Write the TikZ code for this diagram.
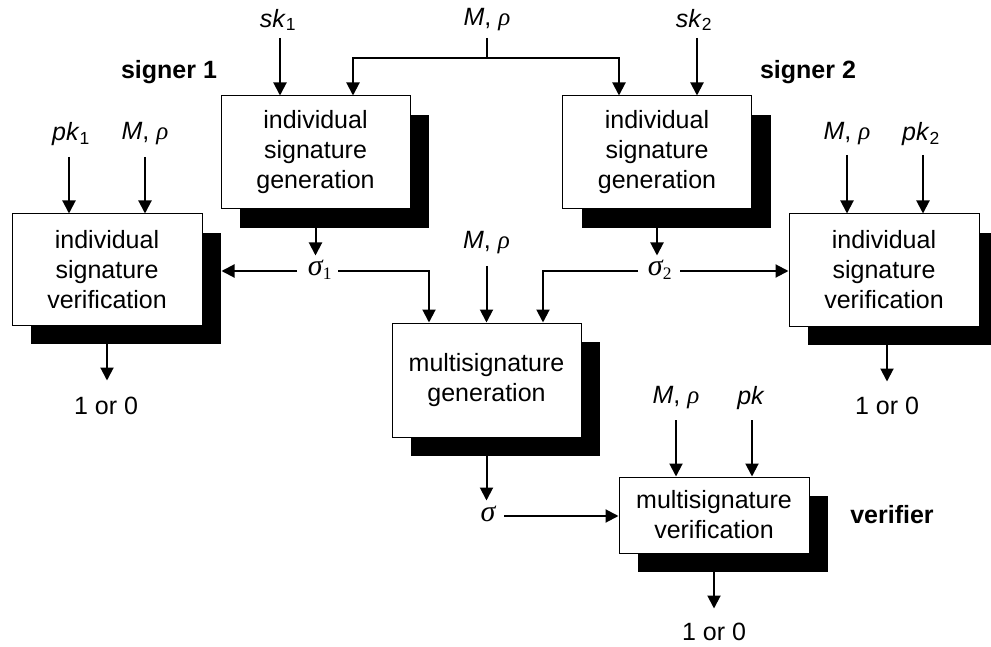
\documentclass[tikz,border=0pt]{standalone}
\usepackage{fontspec}
\setmainfont{Liberation Sans}
\newfontfamily\serf{Liberation Serif}
\usetikzlibrary{arrows.meta,shadows}
\newcommand\fsz{\fontsize{25}{30}\selectfont}
\newcommand\fbz{\fontsize{25}{28}\selectfont\bfseries}
\newcommand\rh{{\serf\itshape ρ}}
\newcommand\sg[1]{{\serf\fontsize{30}{30}\selectfont\itshape σ}\textsubscript{\serf #1}}
\begin{document}
\begin{tikzpicture}[x=1pt,y=-1pt,
  box/.style={draw, line width=1pt, fill=white, align=center, inner sep=0pt,
    minimum width=189pt, minimum height=113pt, font=\fsz,
    general shadow={shadow xshift=19pt, shadow yshift=-19pt, fill=black}},
  lbl/.style={inner sep=0pt, font=\fsz},
  bold/.style={inner sep=0pt, font=\fbz},
  arr/.style={line width=2pt, -{Triangle[length=13pt,width=13pt]}},
  ln/.style={line width=2pt}]
\useasboundingbox (0,0) rectangle (991,647);

% boxes
\node[box] (isg1) at (315.5,152.5) {individual\\signature\\generation};
\node[box] (isg2) at (657,152.5) {individual\\signature\\generation};
\node[box, minimum width=190pt, minimum height=111pt] (isv1) at (107,269.5) {individual\\signature\\verification};
\node[box, minimum width=190pt, minimum height=112pt] (isv2) at (884,270) {individual\\signature\\verification};
\node[box, minimum height=114pt] (mg) at (486.5,380) {multisignature\\generation};
\node[box, minimum width=190pt, minimum height=76pt] (mv) at (714,515) {multisignature\\verification};

% labels
\node[lbl] (sk1) at (278,20) {\textit{sk}\textsubscript{1}};
\node[lbl] (mp0) at (487,20) {\textit{M}, \rh};
\node[lbl] (sk2) at (694,20) {\textit{sk}\textsubscript{2}};
\node[bold] (sg1) at (169,72) {signer 1};
\node[bold] (sg2) at (808,72) {signer 2};
\node[lbl] (pk1) at (71,134) {\textit{pk}\textsubscript{1}};
\node[lbl] (mpa) at (145,134) {\textit{M}, \rh};
\node[lbl] (mpb) at (847,134) {\textit{M}, \rh};
\node[lbl] (pk2) at (921,134) {\textit{pk}\textsubscript{2}};
\node[lbl] (mpc) at (486.5,243) {\textit{M}, \rh};
\node[lbl, anchor=base] (s1) at (320,276) {\sg{1}};
\node[lbl, anchor=base] (s2) at (660,276) {\sg{2}};
\node[lbl, anchor=base] (sg) at (488,521) {{\serf\fontsize{30}{30}\selectfont\itshape σ}};
\node[lbl] (mpd) at (676,398) {\textit{M}, \rh};
\node[lbl] (pk) at (751,398) {\textit{pk}};
\node[bold] (ver) at (892,515) {verifier};
\node[lbl] (o1) at (106,406) {1 or 0};
\node[lbl] (o2) at (887,406) {1 or 0};
\node[lbl] (o3) at (714,632) {1 or 0};

% free ends
\coordinate (a1) at (280,38);
\coordinate (a0) at (487,38);
\coordinate (aj) at (487,58);
\coordinate (a2) at (697,38);
\coordinate (b1) at (69,157);
\coordinate (b2) at (145,157);
\coordinate (b3) at (847,155);
\coordinate (b4) at (923,155);
\coordinate (c0) at (486.5,266);
\coordinate (s1w) at (297,271);
\coordinate (s1e) at (338,271);
\coordinate (s2w) at (638,271);
\coordinate (s2e) at (680,271);
\coordinate (sge) at (504,516);
\coordinate (d1) at (676,420);
\coordinate (d2) at (752,420);

% connectors
\draw[arr] (a1) -- (a1 |- isg1.north);
\draw[ln] (a0) -- (aj);
\draw[arr] (aj) -| ([xshift=37.5]isg1.north);
\draw[arr] (aj) -| ([xshift=-38]isg2.north);
\draw[arr] (a2) -- (a2 |- isg2.north);

\draw[arr] (b1) -- (b1 |- isv1.north);
\draw[arr] (b2) -- (b2 |- isv1.north);
\draw[arr] (b3) -- (b3 |- isv2.north);
\draw[arr] (b4) -- (b4 |- isv2.north);

\draw[arr] (isg1.south) -- ++(0,46);
\draw[arr] (isg2.south) -- ++(0,46);
\draw[arr] (s1w) -- ([xshift=19]s1w -| isv1.east);
\draw[arr] (s1e) -| ([xshift=-57.5]mg.north);
\draw[arr] (c0) -- (mg.north);
\draw[arr] (s2w) -| ([xshift=56.5]mg.north);
\draw[arr] (s2e) -- (s2e -| isv2.west);

\draw[arr] (isv1.south) -- ++(0,55);
\draw[arr] ([xshift=3]isv2.south) -- ++(0,55);
\draw[arr] (mg.south) -- ++(0,63);
\draw[arr] (sge) -- (sge -| mv.west);
\draw[arr] (d1) -- (d1 |- mv.north);
\draw[arr] (d2) -- (d2 |- mv.north);
\draw[arr] (mv.south) -- ++(0,55);
\end{tikzpicture}
\end{document}
